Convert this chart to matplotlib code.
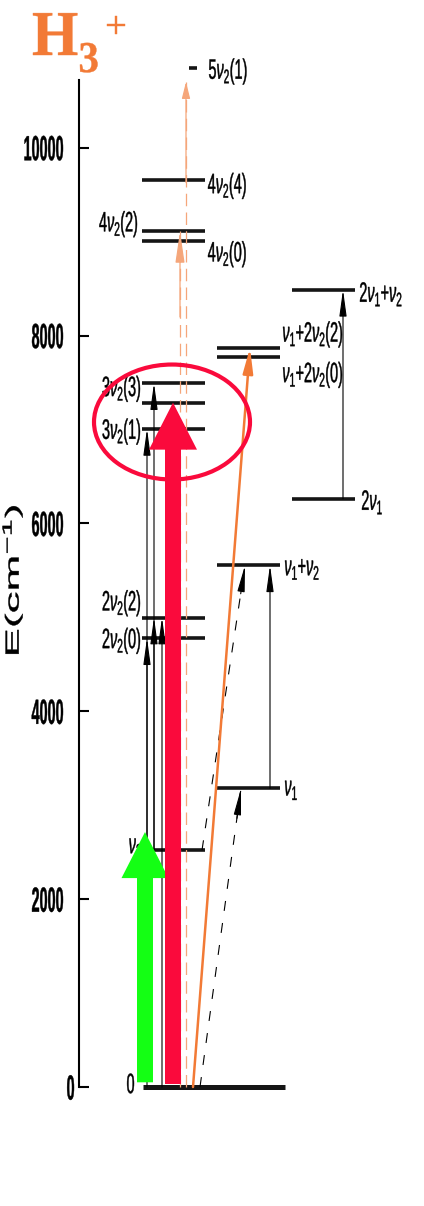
import numpy as np
import matplotlib
matplotlib.use('Agg')
import matplotlib.pyplot as plt
import matplotlib.transforms as mtransforms
from matplotlib.textpath import TextPath
from matplotlib.patches import PathPatch, FancyArrow, Ellipse
from matplotlib.font_manager import FontProperties

plt.rcParams['mathtext.fontset'] = 'custom'
plt.rcParams['mathtext.rm'] = 'Liberation Sans'
plt.rcParams['mathtext.it'] = 'Liberation Sans:italic'
plt.rcParams['mathtext.bf'] = 'Liberation Sans:bold'

# term values of H3+ (cm-1)
bend_E = [2521, 4778, 4998, 7006, 7285, 7493, 9001, 9108, 9653, 10850]
bend_labels = [r'$\nu_2$', r'$2\nu_2(0)$', r'$2\nu_2(2)$', r'$3\nu_2(1)$', '',
               r'$3\nu_2(3)$', r'$4\nu_2(0)$', r'$4\nu_2(2)$', r'$4\nu_2(4)$', r'$5\nu_2(1)$']
stretch_E = [3178, 5554, 7769, 7870]
stretch_labels = [r'$\nu_1$', r'$\nu_1{+}\nu_2$', r'$\nu_1{+}2\nu_2(0)$', r'$\nu_1{+}2\nu_2(2)$']
overtone_E = [6262, 8487]
overtone_labels = [r'$2\nu_1$', r'$2\nu_1{+}\nu_2$']

# thin black transitions (lower, upper)
bend_trans = [(0, 4778), (2521, 7006), (2521, 4998), (2521, 7493), (0, 4998)]
stretch_trans = [(3178, 5554)]
overtone_trans = [(6262, 8487)]
dashed_trans = [(0, 3178), (2521, 5554)]

# pump arrows
green_E = (50, 2714)
red_E = (32, 7285)
orange_dashed = [(0, 10700), (0, 9108)]
orange_solid = (0, 7870)

yticks = [0, 2000, 4000, 6000, 8000, 10000]

red = '#FA0A3C'
green = '#14FF14'
orange = '#F27A36'
orange_light = '#F5A67A'

fig = plt.figure(figsize=(4.24, 12.06), dpi=100)
ax = fig.add_axes([79 / 424, 119 / 1206, 345 / 424, 1007 / 1206])
ax.set_xlim(79, 424)
ax.set_ylim(0, 10720)

lab_fp = FontProperties(family='Liberation Sans')
tick_fp = FontProperties(family='Liberation Sans', weight='bold')


def tall_text(x, y, s, size, sx, sy, ha='left', va='center', rot=0, dx=0, dy=0,
              color='k', prop=lab_fp, trans=None, zorder=6):
    path = TextPath((0, 0), s, size=size, prop=prop)
    bb = path.get_extents()
    x0 = {'left': bb.x0, 'center': 0.5 * (bb.x0 + bb.x1), 'right': bb.x1}[ha]
    y0 = {'center': 0.36 * size, 'baseline': 0, 'middle': 0.5 * (bb.y0 + bb.y1)}[va]
    tr = (mtransforms.Affine2D().translate(-x0, -y0).scale(sx, sy).rotate_deg(rot).translate(dx, dy)
          + mtransforms.ScaledTranslation(x, y, trans if trans is not None else ax.transData))
    p = PathPatch(path, transform=tr, facecolor=color, edgecolor=color, lw=0.3,
                  clip_on=False, zorder=zorder)
    ax.add_artist(p)


def level(E, x0, x1, lw=2.6):
    ax.plot([x0, x1], [E, E], color='#151515', lw=lw, solid_capstyle='butt', clip_on=False, zorder=2)


def up_arrow(x0, E0, x1, E1, color='k', lw=0.8, ls='-', hl=1.6, hw=0.22, z=3):
    if ls != '-':
        ax.plot([x0, x1], [E0, E1], color=color, lw=lw, ls=ls, clip_on=False, zorder=z)
        f = 0.9
        x0, E0 = x0 + f * (x1 - x0), E0 + f * (E1 - E0)
    ax.annotate('', xy=(x1, E1), xytext=(x0, E0), annotation_clip=False,
                arrowprops=dict(arrowstyle='-|>,head_length=%g,head_width=%g' % (hl, hw),
                                color=color, lw=lw, shrinkA=0, shrinkB=0, mutation_scale=10),
                zorder=z)


# levels
level(0, 143, 285, lw=3.6)
bend_x = [(148, 205)] + [(142, 205)] * 8 + [(189, 197)]
for E, (a, b) in zip(bend_E, bend_x):
    level(E, a, b)
for E in stretch_E:
    level(E, 217, 280)
for E in overtone_E:
    level(E, 292, 355)

# labels of levels
bend_lab_pos = [(141, 'right', 7), (140, 'right', 0), (140, 'right', 17), (140, 'right', 0), None,
                (140, 'right', -3), (208, 'left', -10), (137, 'right', 10), (208, 'left', -3), (209, 'left', -1)]
for E, s, pos in zip(bend_E, bend_labels, bend_lab_pos):
    if pos is None:
        continue
    tall_text(pos[0], E, s, 17, 0.85, 1.65, ha=pos[1], dy=pos[2], zorder=1)
tall_text(134, 0, '0', 17, 0.85, 1.65, ha='right', dy=4)
stretch_dy = [3, 0, -15, 16]
stretch_x = [285, 285, 283, 283]
for E, s, x, d in zip(stretch_E, stretch_labels, stretch_x, stretch_dy):
    tall_text(x, E, s, 17, 0.85, 1.65, dy=d)
for E, s, x, d in zip(overtone_E, overtone_labels, [362, 360], [-1, -2]):
    tall_text(x, E, s, 17, 0.85, 1.65, dy=d)

# thin vertical transitions
for (lo, hi), x in zip(bend_trans, [147, 147, 154, 154, 162]):
    up_arrow(x, lo, x, hi)
for lo, hi in stretch_trans:
    up_arrow(270, lo, 270, hi)
for lo, hi in overtone_trans:
    up_arrow(343, lo, 343, hi)
for (lo, hi), (xa, xb) in zip(dashed_trans, [(200, 241), (202, 245)]):
    up_arrow(xa, lo, xb, hi, ls=(0, (9, 11)))

# orange transitions
up_arrow(186, orange_dashed[0][0], 186, orange_dashed[0][1], color=orange_light, lw=0.9,
         ls=(0, (10, 5)), hl=1.0, hw=0.25)
up_arrow(180, orange_dashed[1][0], 180, orange_dashed[1][1], color=orange_light, lw=0.9,
         ls=(0, (10, 5)), hl=1.9, hw=0.28)
up_arrow(193, orange_solid[0], 250, orange_solid[1], color=orange, lw=1.8, hl=1.5, hw=0.3)

# pump arrows
ax.add_patch(FancyArrow(145, green_E[0], 0, green_E[1] - green_E[0], width=16, head_width=47,
                        head_length=490, length_includes_head=True, color=green, lw=0, zorder=4))
ax.add_patch(FancyArrow(173, red_E[0], 0, red_E[1] - red_E[0], width=16, head_width=48,
                        head_length=500, length_includes_head=True, color=red, lw=0, zorder=4))
ax.add_patch(Ellipse((172, 7079), 156, 1224, fill=False, ec=red, lw=3.0, zorder=5))

# axis
for sp in ['top', 'right', 'bottom']:
    ax.spines[sp].set_visible(False)
ax.spines['left'].set_linewidth(1.5)
ax.set_xticks([])
ax.set_yticks(yticks)
ax.tick_params(axis='y', direction='in', length=7.5, width=1.5, labelleft=False)
for t in yticks:
    tall_text(74 if t == 0 else 63, t, '%d' % t, 20, 0.72, 1.75, ha='right', prop=tick_fp)

ident = mtransforms.IdentityTransform()
tall_text(12, 626, r'E(cm$^{-1}$)', 20, 2.2, 0.95, ha='center', va='center', rot=90,
          trans=ident, prop=lab_fp)

# title
serif_b = FontProperties(family='Liberation Serif', weight='bold')
tall_text(33, 1151, 'H', 64, 0.93, 1.0, va='baseline', color=orange, prop=serif_b, trans=ident)
tall_text(80, 1134, '3', 44, 0.93, 1.0, va='baseline', color=orange, prop=serif_b, trans=ident)
tall_text(116, 1181, '+', 38, 1.0, 1.0, ha='center', va='middle', color=orange, prop=serif_b, trans=ident)

fig.savefig('out.png', dpi=100)
